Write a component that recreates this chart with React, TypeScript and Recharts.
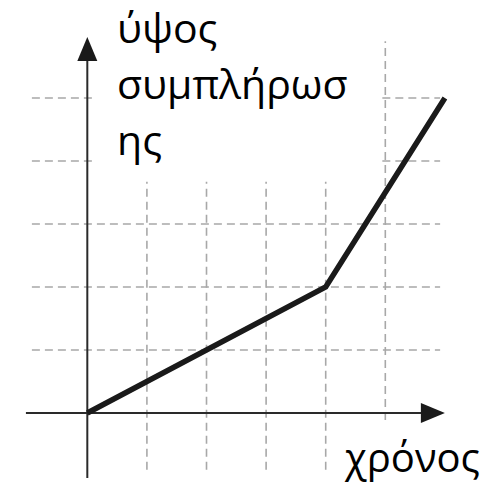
import { LineChart, Line, XAxis, YAxis, ReferenceLine, ReferenceDot } from "recharts";

// polyline of the graph (time, completion height)
const times = [0, 4, 6];
const heights = [0, 2, 5];

// dashed grid positions
const gridX = [1, 2, 3, 4, 5];
const gridY = [1, 2, 3, 4, 5];

const yLabelLines = ["ύψος", "συμπλήρωσ", "ης"];
const xLabel = "χρόνος";

const data = times.map((t, i) => ({ t, h: heights[i] }));

const W = 484;
const H = 489;
// domain chosen so that one unit is ~60px across and ~63px up
const X_DOMAIN: [number, number] = [-1.465, 6.656];
const Y_DOMAIN: [number, number] = [-1.206, 6.556];

const GRID = "#a8a8a8";
const AXIS = "#2a2a2a";
const INK = "#1a1a1a";

// parts of the grid that are hidden behind the labels
const hSegments = gridY.flatMap((y) =>
  y >= 4
    ? [
        [[-0.93, y], [0.16, y]],
        [[4.95, y], [5.92, y]],
      ]
    : [[[-0.93, y], [5.92, y]]]
);
const vSegments = gridX.map((x) => (x === 5 ? [[x, -0.11], [x, 5.9]] : [[x, -0.9], [x, 3.67]]));

const ArrowUp = (props: any) => {
  const { cx, cy } = props;
  return <polygon points={`${cx},${cy} ${cx - 10},${cy + 24} ${cx + 10},${cy + 24}`} fill={INK} />;
};

const ArrowRight = (props: any) => {
  const { cx, cy } = props;
  return <polygon points={`${cx},${cy} ${cx - 24},${cy - 10} ${cx - 24},${cy + 10}`} fill={INK} />;
};

const font = "'Open Sans', 'Noto Sans', sans-serif";

export default function App() {
  return (
    <div style={{ position: "absolute", left: 0, top: 0, width: W, height: H, background: "#fff" }}>
      <LineChart width={W} height={H} data={data} margin={{ top: 0, right: 0, bottom: 0, left: 0 }}>
        <XAxis type="number" dataKey="t" domain={X_DOMAIN} hide allowDataOverflow />
        <YAxis type="number" domain={Y_DOMAIN} hide allowDataOverflow />

        {hSegments.map((seg, i) => (
          <ReferenceLine
            key={`h${i}`}
            segment={[{ x: seg[0][0], y: seg[0][1] }, { x: seg[1][0], y: seg[1][1] }]}
            stroke={GRID}
            strokeWidth={1.6}
            strokeDasharray="8 5"
            ifOverflow="visible"
          />
        ))}
        {vSegments.map((seg, i) => (
          <ReferenceLine
            key={`v${i}`}
            segment={[{ x: seg[0][0], y: seg[0][1] }, { x: seg[1][0], y: seg[1][1] }]}
            stroke={GRID}
            strokeWidth={1.6}
            strokeDasharray="8 5"
            ifOverflow="visible"
          />
        ))}

        {/* axes through the origin */}
        <ReferenceLine
          segment={[{ x: -1.03, y: 0 }, { x: 5.65, y: 0 }]}
          stroke={AXIS}
          strokeWidth={2}
          ifOverflow="visible"
        />
        <ReferenceLine
          segment={[{ x: 0, y: -1.03 }, { x: 0, y: 5.6 }]}
          stroke={AXIS}
          strokeWidth={2}
          ifOverflow="visible"
        />
        <ReferenceDot x={6} y={0} r={1} shape={ArrowRight} ifOverflow="visible" />
        <ReferenceDot x={0} y={5.97} r={1} shape={ArrowUp} ifOverflow="visible" />

        <Line
          type="linear"
          dataKey="h"
          stroke={INK}
          strokeWidth={5.5}
          strokeLinejoin="miter"
          dot={false}
          activeDot={false}
          isAnimationActive={false}
        />

        <text fontFamily={font} fontSize={41} fill="#000">
          {yLabelLines.map((line, i) => (
            <tspan key={i} x={117} y={43 + i * 56}>
              {line}
            </tspan>
          ))}
        </text>
        <text x={345} y={472} fontFamily={font} fontSize={40} fill="#000">
          {xLabel}
        </text>
      </LineChart>
    </div>
  );
}
